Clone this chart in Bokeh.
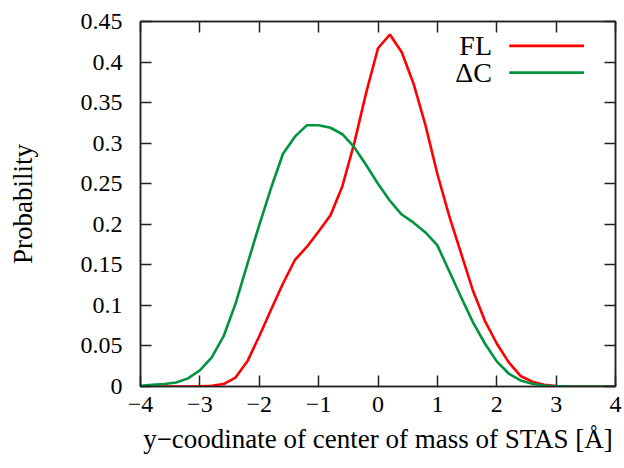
from bokeh.plotting import figure
from bokeh.models import Range1d, FixedTicker, LinearAxis, Label
from bokeh.embed import file_html
from bokeh.resources import INLINE

# ---- data ----
x_vals = [-4.0, -3.8, -3.6, -3.4, -3.2, -3.0, -2.8, -2.6, -2.4, -2.2, -2.0,
          -1.8, -1.6, -1.4, -1.2, -1.0, -0.8, -0.6, -0.4, -0.2, 0.0,
          0.2, 0.4, 0.6, 0.8, 1.0, 1.2, 1.4, 1.6, 1.8, 2.0,
          2.2, 2.4, 2.6, 2.8, 3.0, 3.2, 3.4, 3.6, 3.8, 4.0]
fl_vals = [0.0, 0.0, 0.0, 0.0, 0.0, 0.0002, 0.001, 0.003, 0.011, 0.031, 0.062,
           0.095, 0.127, 0.156, 0.172, 0.191, 0.211, 0.247, 0.300, 0.362, 0.417,
           0.434, 0.412, 0.373, 0.322, 0.262, 0.210, 0.164, 0.118, 0.081, 0.053,
           0.030, 0.013, 0.006, 0.002, 0.0007, 0.0002, 0.0, 0.0, 0.0, 0.0]
dc_vals = [0.001, 0.002, 0.003, 0.005, 0.010, 0.020, 0.036, 0.062, 0.102, 0.151, 0.199,
           0.245, 0.287, 0.308, 0.322, 0.322, 0.319, 0.311, 0.295, 0.273, 0.250,
           0.229, 0.212, 0.202, 0.190, 0.174, 0.142, 0.110, 0.079, 0.053, 0.031,
           0.016, 0.0075, 0.0033, 0.0012, 0.0004, 0.0001, 0.0, 0.0, 0.0, 0.0]
series_names = ["FL", "\u0394C"]
series_colors = ["#ff0000", "#009440"]
x_ticks = [-4, -3, -2, -1, 0, 1, 2, 3, 4]
x_tick_labels = ["\u22124", "\u22123", "\u22122", "\u22121", "0", "1", "2", "3", "4"]
y_ticks = [0, 0.05, 0.1, 0.15, 0.2, 0.25, 0.3, 0.35, 0.4, 0.45]
y_tick_labels = ["0", "0.05", "0.1", "0.15", "0.2", "0.25", "0.3", "0.35", "0.4", "0.45"]

FONT = "'Liberation Serif', 'Times New Roman', serif"
TICK_SIZE = "24px"
LABEL_SIZE = "27px"

p = figure(width=623, height=466, output_backend="svg", toolbar_location=None,
           x_range=Range1d(-4, 4), y_range=Range1d(0, 0.45),
           min_border_left=140, min_border_right=8, min_border_top=21, min_border_bottom=80,
           x_axis_label="y\u2212coodinate of center of mass of STAS [\u00c5]",
           y_axis_label="Probability")
p.grid.visible = False
p.outline_line_color = "#222222"
p.outline_line_width = 1.5
p.background_fill_color = "white"
p.border_fill_color = "white"

def style_axis(ax, ticks, labels, show_labels=True):
    ax.ticker = FixedTicker(ticks=ticks)
    ax.major_tick_in = 11
    ax.major_tick_out = 0
    ax.minor_tick_line_color = None
    ax.axis_line_color = "#222222"
    ax.axis_line_width = 1.5
    ax.major_tick_line_color = "#222222"
    ax.major_tick_line_width = 1.5
    ax.major_label_text_font = FONT
    ax.major_label_text_color = "black"
    ax.major_label_text_font_size = TICK_SIZE
    ax.axis_label_text_font = FONT
    ax.axis_label_text_font_style = "normal"
    ax.axis_label_text_color = "black"
    ax.axis_label_text_font_size = LABEL_SIZE
    if show_labels:
        ax.major_label_overrides = {t: l for t, l in zip(ticks, labels)}
    else:
        ax.major_label_overrides = {t: "" for t in ticks}
        ax.major_label_standoff = 0

style_axis(p.xaxis[0], x_ticks, x_tick_labels)
style_axis(p.yaxis[0], y_ticks, y_tick_labels)
p.xaxis[0].major_label_standoff = 10
p.xaxis[0].axis_label_standoff = 9
p.yaxis[0].major_label_standoff = 18
p.yaxis[0].axis_label_standoff = 40

top_ax = LinearAxis()
style_axis(top_ax, x_ticks, x_tick_labels, show_labels=False)
p.add_layout(top_ax, "above")
right_ax = LinearAxis()
style_axis(right_ax, y_ticks, y_tick_labels, show_labels=False)
p.add_layout(right_ax, "right")

for vals, color in zip([fl_vals, dc_vals], series_colors):
    p.line(x_vals, vals, line_color=color, line_width=2.6)

# manual legend (text left, line sample right), in data units
leg_text_x = 1.92
leg_line_x0, leg_line_x1 = 2.21, 3.47
leg_y = [0.42, 0.387]
for name, color, yy in zip(series_names, series_colors, leg_y):
    p.add_layout(Label(x=leg_text_x, y=yy, text=name, text_font=FONT,
                       text_font_size="28px", text_align="right",
                       text_baseline="middle", text_color="black"))
    p.segment(x0=[leg_line_x0], y0=[yy], x1=[leg_line_x1], y1=[yy],
              line_color=color, line_width=2.6)

open("out.html", "w").write(file_html(p, INLINE))
